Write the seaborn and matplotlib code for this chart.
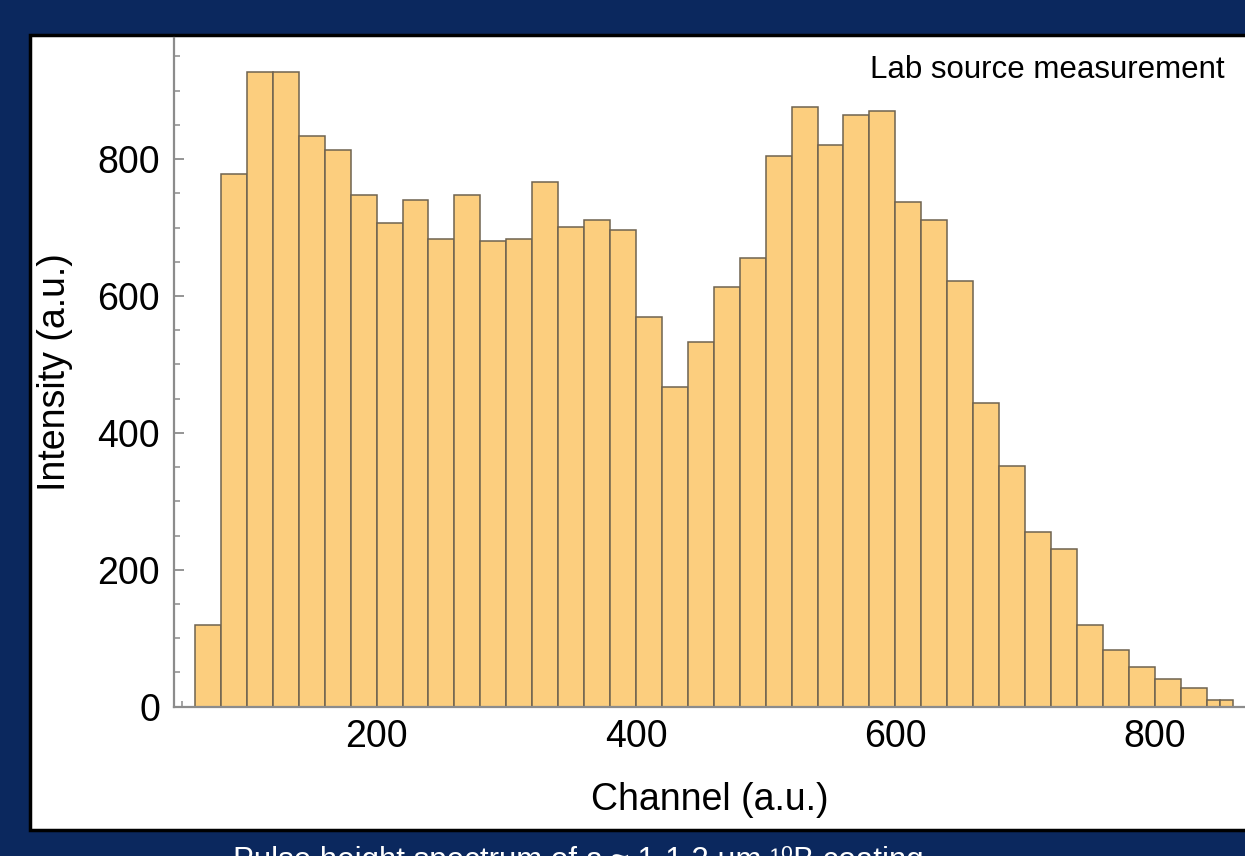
import matplotlib
matplotlib.use("Agg")
import matplotlib.pyplot as plt
from matplotlib.patches import Rectangle
from matplotlib.ticker import MultipleLocator
import seaborn as sns

# bin lower edges (channel) and bin contents
bin_edges = [60, 80, 100, 120, 140, 160, 180, 200, 220, 240, 260, 280, 300,
             320, 340, 360, 380, 400, 420, 440, 460, 480, 500, 520, 540, 560,
             580, 600, 620, 640, 660, 680, 700, 720, 740, 760, 780, 800, 820,
             840, 850, 860]
counts = [120, 779, 927, 927, 834, 814, 748, 707, 741, 683, 748, 680, 683,
          766, 701, 711, 697, 570, 467, 533, 613, 656, 804, 876, 821, 865,
          870, 738, 711, 622, 444, 351, 255, 230, 120, 83, 58, 41, 27,
          10, 10]
centers = [(a + b) / 2 for a, b in zip(bin_edges[:-1], bin_edges[1:])]

x_label = "Channel (a.u.)"
y_label = "Intensity (a.u.)"
note = "Lab source measurement"
caption = "Pulse height spectrum of a \u2248 1-1.2 \u03bcm \u00b9\u2070B coating"

navy = "#0b285e"
bar_color = "#fcce7e"
edge_color = "#6f6350"
axis_color = "#8c8c8c"

sns.set_style("white")
plt.rcParams["font.family"] = ["Liberation Sans", "DejaVu Sans"]

W, H = 1245, 856
fig = plt.figure(figsize=(W / 100, H / 100), dpi=100, facecolor=navy)

# white slide panel, kept behind the axes
panel = Rectangle((30 / W, 1 - 830 / H), 1.2, (830 - 35) / H,
                  transform=fig.transFigure, facecolor="white",
                  edgecolor="black", linewidth=2.5, zorder=-5)
fig.patches.append(panel)

ax = fig.add_axes([174 / W, 1 - 706.7 / H, 1 - 174 / W, (706.7 - 38) / H])
ax.set_facecolor("none")
ax.set_zorder(2)

sns.histplot(x=centers, weights=counts, bins=bin_edges, ax=ax,
             color=bar_color, alpha=1, edgecolor=edge_color, linewidth=1.1)

ax.set_xlim(43.8, 869.6)
ax.set_ylim(0, 977)

for s in ["top", "right"]:
    ax.spines[s].set_visible(False)
for s in ["left", "bottom"]:
    ax.spines[s].set_color(axis_color)
    ax.spines[s].set_linewidth(1.6)

ax.xaxis.set_major_locator(MultipleLocator(200))
ax.xaxis.set_minor_locator(MultipleLocator(50))
ax.yaxis.set_major_locator(MultipleLocator(200))
ax.yaxis.set_minor_locator(MultipleLocator(50))
ax.set_xticks([200, 400, 600, 800])
ax.tick_params(axis="both", which="both", bottom=True, left=True)
ax.tick_params(axis="both", which="major", direction="in", length=7,
               width=1.3, color=axis_color, labelsize=27, labelcolor="black")
ax.tick_params(axis="both", which="minor", direction="in", length=4,
               width=1.1, color=axis_color)
ax.tick_params(axis="y", which="major", pad=10)
ax.tick_params(axis="x", which="major", pad=9)

ax.set_xlabel(x_label, fontsize=27, color="black")
ax.set_ylabel(y_label, fontsize=27, color="black")
ax.xaxis.label.set_va("center")
ax.yaxis.label.set_va("center")
ax.xaxis.set_label_coords(0.5, (706.7 - 800) / (706.7 - 38))
ax.yaxis.set_label_coords((55 - 174) / (W - 174), 0.5)

fig.text(1225 / W, 1 - 70 / H, note, ha="right", va="center",
         fontsize=22.5, color="black")
fig.text(233 / W, 1 - 869 / H, caption, ha="left", va="baseline",
         fontsize=22.5, color="white")

fig.savefig("out.png", dpi=100, facecolor=navy)
